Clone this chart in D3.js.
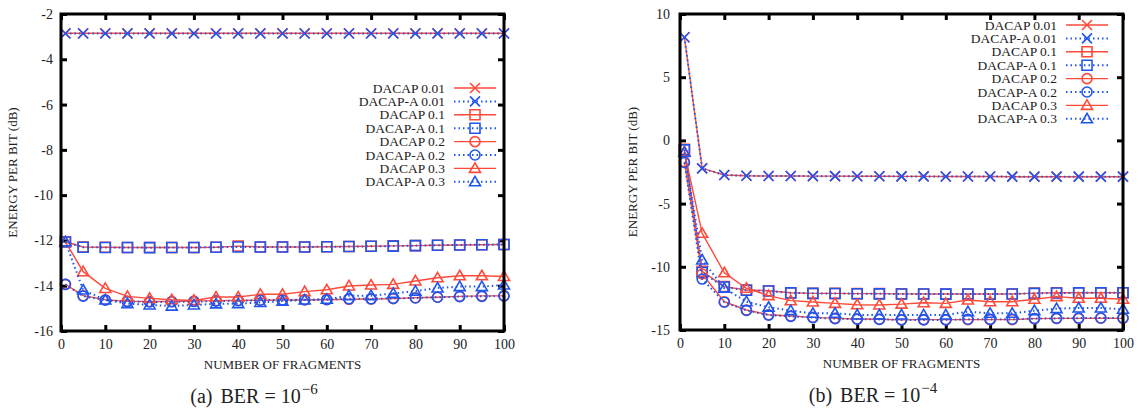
<!DOCTYPE html>
<html>
<head>
<meta charset="utf-8">
<script src="https://cdn.jsdelivr.net/npm/d3@7"></script>
<style>
  body { margin: 0; background: #fff; }
  svg text { font-family: "Liberation Serif", "Times New Roman", serif; fill: #222; }
</style>
</head>
<body>
<div id="chart"></div>
<script>
// Number of fragments (x values shared by every series)
var fragments = [1, 5, 10, 15, 20, 25, 30, 35, 40, 45, 50, 55, 60, 65, 70, 75, 80, 85, 90, 95, 100];

var seriesNames = ["DACAP 0.01", "DACAP-A 0.01", "DACAP 0.1", "DACAP-A 0.1",
                   "DACAP 0.2", "DACAP-A 0.2", "DACAP 0.3", "DACAP-A 0.3"];

// (a) BER = 10^-6
var a_dacap001  = [-2.85, -2.85, -2.85, -2.85, -2.85, -2.85, -2.85, -2.85, -2.85, -2.85, -2.85, -2.85, -2.85, -2.85, -2.85, -2.85, -2.85, -2.85, -2.85, -2.85, -2.85];
var a_dacapA001 = [-2.86, -2.86, -2.86, -2.86, -2.86, -2.86, -2.86, -2.86, -2.86, -2.86, -2.86, -2.86, -2.86, -2.86, -2.86, -2.86, -2.86, -2.86, -2.86, -2.86, -2.86];
var a_dacap01   = [-12.06, -12.29, -12.3, -12.31, -12.31, -12.31, -12.31, -12.3, -12.25, -12.29, -12.29, -12.29, -12.28, -12.27, -12.26, -12.24, -12.23, -12.21, -12.2, -12.19, -12.18];
var a_dacapA01  = [-12.07, -12.3, -12.31, -12.31, -12.32, -12.31, -12.31, -12.3, -12.29, -12.29, -12.29, -12.29, -12.28, -12.27, -12.26, -12.25, -12.23, -12.21, -12.2, -12.19, -12.18];
var a_dacap02   = [-13.94, -14.44, -14.62, -14.69, -14.7, -14.7, -14.68, -14.66, -14.65, -14.64, -14.63, -14.63, -14.62, -14.6, -14.59, -14.57, -14.53, -14.51, -14.47, -14.45, -14.45];
var a_dacapA02  = [-13.94, -14.46, -14.64, -14.7, -14.72, -14.71, -14.7, -14.68, -14.66, -14.64, -14.63, -14.62, -14.61, -14.58, -14.58, -14.56, -14.54, -14.51, -14.48, -14.47, -14.45];
var a_dacap03   = [-12.06, -13.38, -14.12, -14.47, -14.56, -14.62, -14.65, -14.5, -14.5, -14.38, -14.38, -14.26, -14.18, -14.01, -13.97, -13.94, -13.79, -13.65, -13.56, -13.56, -13.59];
var a_dacapA03  = [-12.06, -14.19, -14.63, -14.79, -14.85, -14.9, -14.85, -14.8, -14.79, -14.74, -14.68, -14.63, -14.6, -14.44, -14.44, -14.34, -14.24, -14.1, -14.04, -14.04, -13.97];

// (b) BER = 10^-4
var b_dacap001  = [8.16, -2.21, -2.74, -2.8, -2.82, -2.82, -2.83, -2.83, -2.84, -2.84, -2.85, -2.85, -2.86, -2.86, -2.86, -2.87, -2.87, -2.87, -2.87, -2.87, -2.87];
var b_dacapA001 = [8.16, -2.21, -2.74, -2.8, -2.82, -2.82, -2.83, -2.83, -2.84, -2.84, -2.85, -2.85, -2.86, -2.86, -2.86, -2.87, -2.87, -2.87, -2.87, -2.87, -2.87];
var b_dacap01   = [-0.7, -10.35, -11.57, -11.84, -11.89, -12.05, -12.1, -12.1, -12.12, -12.12, -12.14, -12.15, -12.15, -12.15, -12.15, -12.15, -12.08, -12.05, -12.05, -12.05, -12.05];
var b_dacapA01  = [-0.75, -10.45, -11.6, -11.86, -11.92, -12.06, -12.1, -12.11, -12.13, -12.14, -12.15, -12.15, -12.16, -12.15, -12.16, -12.15, -12.1, -12.07, -12.06, -12.06, -12.05];
var b_dacap02   = [-1.7, -10.57, -12.76, -13.42, -13.79, -13.89, -14.0, -14.08, -14.13, -14.15, -14.2, -14.18, -14.18, -14.18, -14.18, -14.18, -14.1, -14.08, -14.08, -14.07, -14.08];
var b_dacapA02  = [-1.75, -10.97, -12.8, -13.45, -13.82, -13.92, -14.02, -14.1, -14.14, -14.16, -14.2, -14.2, -14.2, -14.15, -14.16, -14.15, -14.1, -14.08, -14.06, -14.05, -14.05];
var b_dacap03   = [-0.9, -7.35, -10.47, -11.7, -12.28, -12.68, -12.78, -12.89, -13.0, -13.02, -12.95, -12.84, -12.89, -12.63, -12.76, -12.76, -12.57, -12.36, -12.49, -12.49, -12.57];
var b_dacapA03  = [-0.95, -9.46, -11.7, -12.76, -13.2, -13.47, -13.68, -13.68, -13.81, -13.8, -13.81, -13.81, -13.81, -13.55, -13.68, -13.68, -13.47, -13.31, -13.26, -13.26, -13.36];

// Tick values
var xTicks = [0, 10, 20, 30, 40, 50, 60, 70, 80, 90, 100];
var aYTicks = [-16, -14, -12, -10, -8, -6, -4, -2];
var bYTicks = [-15, -10, -5, 0, 5, 10];

var red = "#ff4a3a";
var blue = "#1f55f0";
var markerKinds = ["x", "x", "square", "square", "circle", "circle", "triangle", "triangle"];

var svgWidth = 1141;
var svgHeight = 412;

var svg = d3.select("#chart")
  .append("svg")
    .attr("width", svgWidth)
    .attr("height", svgHeight);

// marker path for a given kind, centred at 0,0
function markerPath(kind) {
  var p = d3.path();
  var s = 5;
  if (kind === "x") {
    p.moveTo(-s, -s); p.lineTo(s, s);
    p.moveTo(-s, s); p.lineTo(s, -s);
  } else if (kind === "square") {
    p.rect(-s, -s, 2 * s, 2 * s);
  } else if (kind === "circle") {
    p.arc(0, 0, s, 0, 2 * Math.PI);
  } else {
    p.moveTo(0, -5.5); p.lineTo(5.5, 4); p.lineTo(-5.5, 4); p.closePath();
  }
  return p.toString();
}

function drawChart(cfg) {
  var g = svg.append("g")
    .attr("transform", `translate(${cfg.left}, ${cfg.top})`);

  var xScale = d3.scaleLinear().domain([0, 100]).range([0, cfg.width]);
  var yScale = d3.scaleLinear().domain(cfg.yDomain).range([cfg.height, 0]);

  // axes with inward ticks, mirrored on top/right
  var bottom = g.append("g")
    .attr("transform", `translate(0, ${cfg.height})`)
    .call(d3.axisBottom(xScale).tickValues(xTicks).tickSize(-6).tickPadding(8).tickFormat(d => String(d)));
  var top = g.append("g")
    .call(d3.axisTop(xScale).tickValues(xTicks).tickSize(-6).tickFormat(""));
  var left = g.append("g")
    .call(d3.axisLeft(yScale).tickValues(cfg.yTicks).tickSize(-6).tickPadding(cfg.yPad).tickFormat(d => String(d)));
  var right = g.append("g")
    .attr("transform", `translate(${cfg.width}, 0)`)
    .call(d3.axisRight(yScale).tickValues(cfg.yTicks).tickSize(-6).tickFormat(""));

  [bottom, top, left, right].forEach(function(ax) {
    ax.attr("font-family", null);
    ax.select(".domain").remove();
    ax.selectAll(".tick line").attr("stroke", "#000").attr("stroke-width", 3);
    ax.selectAll(".tick text")
      .style("font-size", "14px")
      .attr("fill", "#222");
  });

  var line = d3.line()
    .x(d => xScale(d[0]))
    .y(d => yScale(d[1]));

  // series, red solid then blue dotted, in legend order
  cfg.values.forEach(function(vals, i) {
    var isA = i % 2 === 1;
    var color = isA ? blue : red;
    var pts = fragments.map((f, j) => [f, vals[j]]);

    g.append("path")
      .datum(pts)
      .attr("d", line)
      .attr("fill", "none")
      .attr("stroke", color)
      .attr("stroke-width", isA ? 2 : 1.4)
      .attr("stroke-dasharray", isA ? "1.5,3" : null);

    g.selectAll("path.m" + i)
      .data(pts)
      .enter()
      .append("path")
      .attr("class", "m" + i)
      .attr("transform", d => `translate(${xScale(d[0])}, ${yScale(d[1])})`)
      .attr("d", markerPath(markerKinds[i]))
      .attr("fill", "none")
      .attr("stroke", color)
      .attr("stroke-width", 1.6);
  });

  // frame
  g.append("rect")
    .attr("x", 0)
    .attr("y", 0)
    .attr("width", cfg.width)
    .attr("height", cfg.height)
    .attr("fill", "none")
    .attr("stroke", "#000")
    .attr("stroke-width", 3);

  // legend
  var lg = g.append("g")
    .attr("transform", `translate(${cfg.legendX}, ${cfg.legendY})`);
  seriesNames.forEach(function(name, i) {
    var isA = i % 2 === 1;
    var color = isA ? blue : red;
    var y = i * 13.4;
    lg.append("text")
      .attr("x", 0)
      .attr("y", y + 4.5)
      .attr("text-anchor", "end")
      .style("font-size", "13.5px")
      .text(name);
    lg.append("line")
      .attr("x1", 9)
      .attr("x2", 51)
      .attr("y1", y)
      .attr("y2", y)
      .attr("stroke", color)
      .attr("stroke-width", isA ? 2 : 1.4)
      .attr("stroke-dasharray", isA ? "1.5,3" : null);
    lg.append("path")
      .attr("transform", `translate(30, ${y})`)
      .attr("d", markerPath(markerKinds[i]))
      .attr("fill", "none")
      .attr("stroke", color)
      .attr("stroke-width", 1.6);
  });

  // axis labels
  g.append("text")
    .attr("transform", "rotate(-90)")
    .attr("x", -cfg.height / 2)
    .attr("y", cfg.yLabelX)
    .attr("text-anchor", "middle")
    .style("font-size", "13px")
    .text("ENERGY PER BIT (dB)");

  g.append("text")
    .attr("x", cfg.width / 2)
    .attr("y", cfg.height + 38)
    .attr("text-anchor", "middle")
    .style("font-size", "13px")
    .text("NUMBER OF FRAGMENTS");

  // caption
  var cap = g.append("text")
    .attr("x", cfg.captionX)
    .attr("y", cfg.height + 72)
    .attr("text-anchor", "middle")
    .style("font-size", "20px");
  cap.append("tspan").text(cfg.caption);
  cap.append("tspan").attr("dx", 8).text("BER = 10");
  cap.append("tspan")
    .attr("dx", 1)
    .attr("dy", -9)
    .style("font-size", "15px")
    .text("\u2212" + cfg.exponent);
}

drawChart({
  left: 61, top: 14, width: 443, height: 317,
  yDomain: [-16, -2], yTicks: aYTicks, yPad: 8,
  values: [a_dacap001, a_dacapA001, a_dacap01, a_dacapA01, a_dacap02, a_dacapA02, a_dacap03, a_dacapA03],
  legendX: 384, legendY: 74,
  yLabelX: -44,
  caption: "(a)", exponent: "6", captionX: 193
});

drawChart({
  left: 680, top: 14, width: 443, height: 316,
  yDomain: [-15, 10], yTicks: bYTicks, yPad: 10,
  values: [b_dacap001, b_dacapA001, b_dacap01, b_dacapA01, b_dacap02, b_dacapA02, b_dacap03, b_dacapA03],
  legendX: 377, legendY: 11,
  yLabelX: -43,
  caption: "(b)", exponent: "4", captionX: 193
});
</script>
</body>
</html>
